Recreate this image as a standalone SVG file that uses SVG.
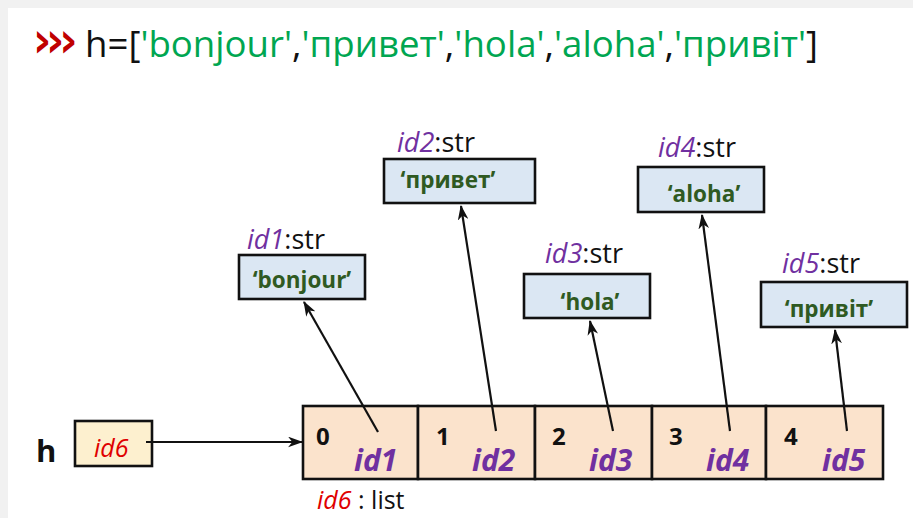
<svg xmlns="http://www.w3.org/2000/svg" width="913" height="518" viewBox="0 0 913 518">
<defs>
<style>
.f{font-family:"Open Sans","Liberation Sans",sans-serif}
.strbox{fill:#dbe7f3;stroke:#111;stroke-width:2.6}
.cell{fill:#fbe3cc;stroke:#111;stroke-width:2.6}
.lbl{font-size:27px;fill:#111}
.idp{fill:#7030a0;font-style:italic}
.sv{font-size:22.5px;font-weight:bold;fill:#2f5a22;text-anchor:middle}
.idx{font-size:24px;font-weight:bold;fill:#111}
.cid{font-size:30px;font-weight:bold;font-style:italic;fill:#7030a0}
.conn{stroke:#111;stroke-width:2.2;fill:none;marker-end:url(#arr)}
</style>
<marker id="arr" viewBox="0 0 14 10" refX="13" refY="5" markerWidth="15" markerHeight="11" orient="auto" markerUnits="userSpaceOnUse">
<path d="M0,0 L14,5 L0,10 L4,5 z" fill="#111"/>
</marker>
</defs>
<rect x="0" y="0" width="913" height="518" fill="#f1f1f1"/>
<rect x="8" y="8" width="905" height="510" fill="#ffffff"/>

<g id="title" class="f">
<text transform="translate(36,57) scale(0.56,1)" font-size="40" font-weight="800" fill="#c00000">&gt;&gt;&gt;</text>
<text x="85" y="57" font-size="36" fill="#111" textLength="733" lengthAdjust="spacingAndGlyphs">h=[<tspan fill="#00a651">'bonjour'</tspan>,<tspan fill="#00a651">'привет'</tspan>,<tspan fill="#00a651">'hola'</tspan>,<tspan fill="#00a651">'aloha'</tspan>,<tspan fill="#00a651">'привіт'</tspan>]</text>
</g>

<g id="var-h" class="f">
<text x="36" y="462" font-size="31" font-weight="bold" fill="#111">h</text>
<rect x="75" y="421" width="77" height="45" fill="#fdf0cf" stroke="#111" stroke-width="2.6"/>
<text x="94" y="457" font-size="25" font-style="italic" fill="#e00000">id6</text>
</g>

<g id="str1" class="f">
<text x="247" y="249" class="lbl"><tspan class="idp">id1</tspan>:str</text>
<rect x="239" y="255" width="126" height="44" class="strbox"/>
<text x="302" y="288" class="sv">‘bonjour’</text>
</g>
<g id="str2" class="f">
<text x="397" y="152" class="lbl"><tspan class="idp">id2</tspan>:str</text>
<rect x="384" y="159" width="151" height="44" class="strbox"/>
<text x="448" y="188" class="sv">‘привет’</text>
</g>
<g id="str3" class="f">
<text x="545" y="263" class="lbl"><tspan class="idp">id3</tspan>:str</text>
<rect x="524" y="274" width="126" height="44" class="strbox"/>
<text x="590" y="310" class="sv">‘hola’</text>
</g>
<g id="str4" class="f">
<text x="658" y="157" class="lbl"><tspan class="idp">id4</tspan>:str</text>
<rect x="638" y="167" width="126" height="45" class="strbox"/>
<text x="704" y="202" class="sv">‘aloha’</text>
</g>
<g id="str5" class="f">
<text x="782" y="273" class="lbl"><tspan class="idp">id5</tspan>:str</text>
<rect x="761" y="282" width="146" height="45" class="strbox"/>
<text x="829" y="317" class="sv">‘привіт’</text>
</g>

<g id="list" class="f">
<rect x="303" y="406" width="115" height="73" class="cell"/>
<rect x="418" y="406" width="117" height="73" class="cell"/>
<rect x="535" y="406" width="117" height="73" class="cell"/>
<rect x="652" y="406" width="114" height="73" class="cell"/>
<rect x="766" y="406" width="117" height="73" class="cell"/>
<text x="316" y="445" class="idx">0</text>
<text x="436" y="445" class="idx">1</text>
<text x="552" y="445" class="idx">2</text>
<text x="669" y="445" class="idx">3</text>
<text x="784" y="445" class="idx">4</text>
<text x="354" y="471" class="cid">id1</text>
<text x="472" y="471" class="cid">id2</text>
<text x="589" y="471" class="cid">id3</text>
<text x="706" y="471" class="cid">id4</text>
<text x="822" y="471" class="cid">id5</text>
<text x="317" y="509" font-size="25" fill="#111"><tspan fill="#e00000" font-style="italic">id6</tspan> : list</text>
</g>

<g id="connectors">
<line x1="146" y1="442" x2="302" y2="442" class="conn"/>
<line x1="378" y1="432" x2="304" y2="302" class="conn"/>
<line x1="496" y1="431" x2="461" y2="206" class="conn"/>
<line x1="613" y1="431" x2="590" y2="321" class="conn"/>
<line x1="730" y1="431" x2="702" y2="215" class="conn"/>
<line x1="847" y1="431" x2="835" y2="330" class="conn"/>
</g>
</svg>
